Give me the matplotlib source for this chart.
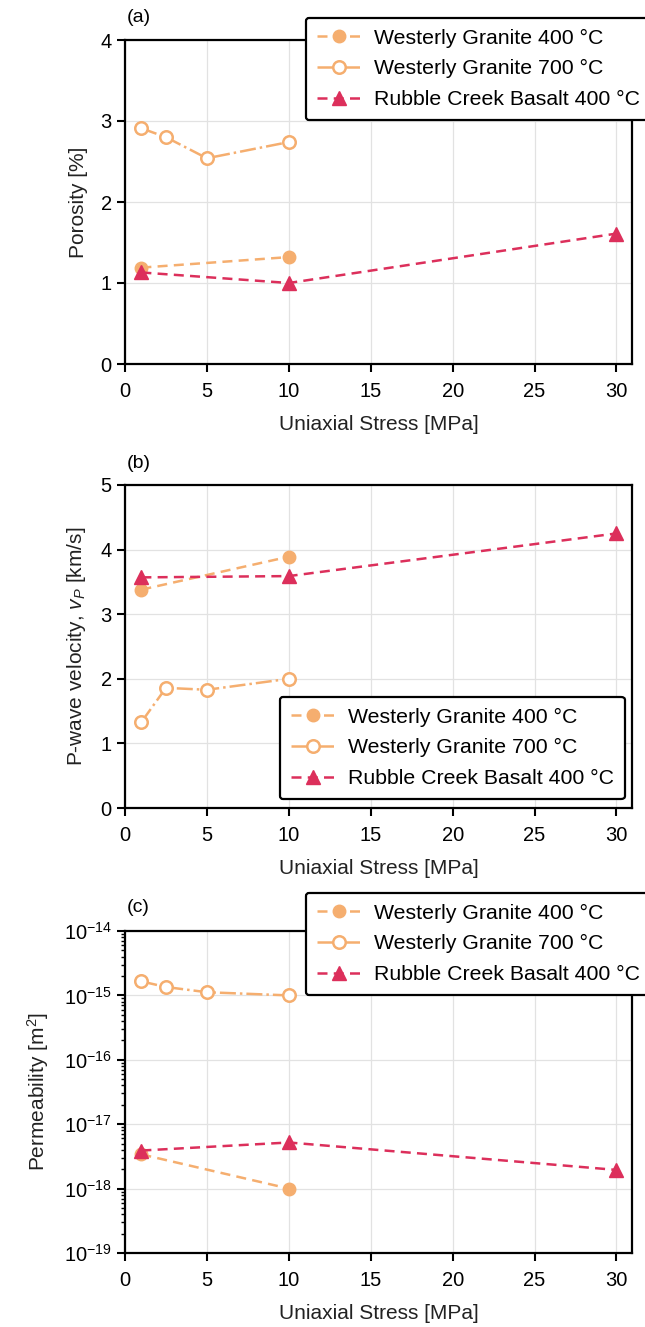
import matplotlib
matplotlib.use('Agg')
import matplotlib.pyplot as plt

plt.rcParams['font.family'] = ['Liberation Sans', 'DejaVu Sans']
plt.rcParams['mathtext.fontset'] = 'custom'
plt.rcParams['mathtext.rm'] = 'Liberation Sans'
plt.rcParams['mathtext.it'] = 'Liberation Sans:italic'

# data
wg400_x = [1, 10]
wg700_x = [1, 2.5, 5, 10]
rcb_x = [1, 10, 30]

# porosity [%]
wg400_por = [1.19, 1.32]
wg700_por = [2.91, 2.80, 2.54, 2.74]
rcb_por = [1.13, 1.00, 1.61]

# p-wave velocity [km/s]
wg400_vp = [3.38, 3.89]
wg700_vp = [1.33, 1.86, 1.83, 2.00]
rcb_vp = [3.57, 3.59, 4.25]

# permeability [m2]
wg400_k = [3.4e-18, 1.0e-18]
wg700_k = [1.65e-15, 1.35e-15, 1.12e-15, 1.0e-15]
rcb_k = [3.9e-18, 5.2e-18, 1.95e-18]

labels = ['Westerly Granite 400 °C', 'Westerly Granite 700 °C', 'Rubble Creek Basalt 400 °C']
orange = '#F5AE6F'
red = '#DC2F5B'

fig = plt.figure(figsize=(6.45, 13.27), dpi=100)

left = 125 / 645
width = (632 - 125) / 645
H = 1327
boxes = [(40, 364), (485, 808), (931, 1253)]
axes = [fig.add_axes([left, 1 - b / H, width, (b - t) / H]) for t, b in boxes]

panels = [
    (wg400_por, wg700_por, rcb_por, 'Porosity [%]', (0, 4), '(a)', 18),
    (wg400_vp, wg700_vp, rcb_vp, r'P-wave velocity, $v_P$ [km/s]', (0, 5), '(b)', 463),
    (wg400_k, wg700_k, rcb_k, r'Permeability [m$^{2}$]', (1e-19, 1e-14), '(c)', 907),
]
leg_pos = [(306, 18), (280, 697), (306, 893)]

for i, (ax, (a, b, c, ylab, ylim, tag, ty)) in enumerate(zip(axes, panels)):
    ax.plot(wg400_x, a, '--', color=orange, marker='o', ms=9, lw=1.8,
            dashes=(4, 2.5), label=labels[0])
    ax.plot(wg700_x, b, '-.', color=orange, marker='o', ms=9, lw=1.8,
            mfc='white', mew=1.8, label=labels[1])
    ax.plot(rcb_x, c, '--', color=red, marker='^', ms=10, lw=1.8,
            dashes=(4, 2.5), label=labels[2])
    if i == 2:
        ax.set_yscale('log')
    ax.set_xlim(0, 30.95)
    ax.set_ylim(*ylim)
    if i < 2:
        ax.set_yticks(range(ylim[1] + 1))
    ax.set_xticks([0, 5, 10, 15, 20, 25, 30])
    ax.grid(True, color='#e2e2e2', lw=0.9)
    ax.set_axisbelow(True)
    for s in ax.spines.values():
        s.set_linewidth(1.6)
    ax.tick_params(which='major', direction='out', length=6, width=1.5, labelsize=14.5,
                   top=False, right=False)
    ax.tick_params(axis='x', pad=7)
    ax.tick_params(which='minor', direction='out', length=3, width=1.0, left=True)
    ax.set_xlabel('Uniaxial Stress [MPa]', fontsize=15, color='#222222', labelpad=10)
    ax.set_ylabel(ylab, fontsize=15, color='#222222', labelpad=9)
    fig.text(127 / 645, 1 - ty / H, tag, fontsize=14, va='center', ha='left')
    lx, ly = leg_pos[i]
    leg = ax.legend(loc='upper left', bbox_to_anchor=(lx / 645, 1 - ly / H),
                    bbox_transform=fig.transFigure, fontsize=15.3, handlelength=2.1,
                    handletextpad=0.6, labelspacing=0.55, borderpad=0.5,
                    borderaxespad=0, fancybox=True, framealpha=1)
    leg.get_frame().set_edgecolor('black')
    leg.get_frame().set_linewidth(1.6)
    leg.get_frame().set_boxstyle('round', pad=0, rounding_size=0.15)

fig.savefig('out.png', dpi=100)
